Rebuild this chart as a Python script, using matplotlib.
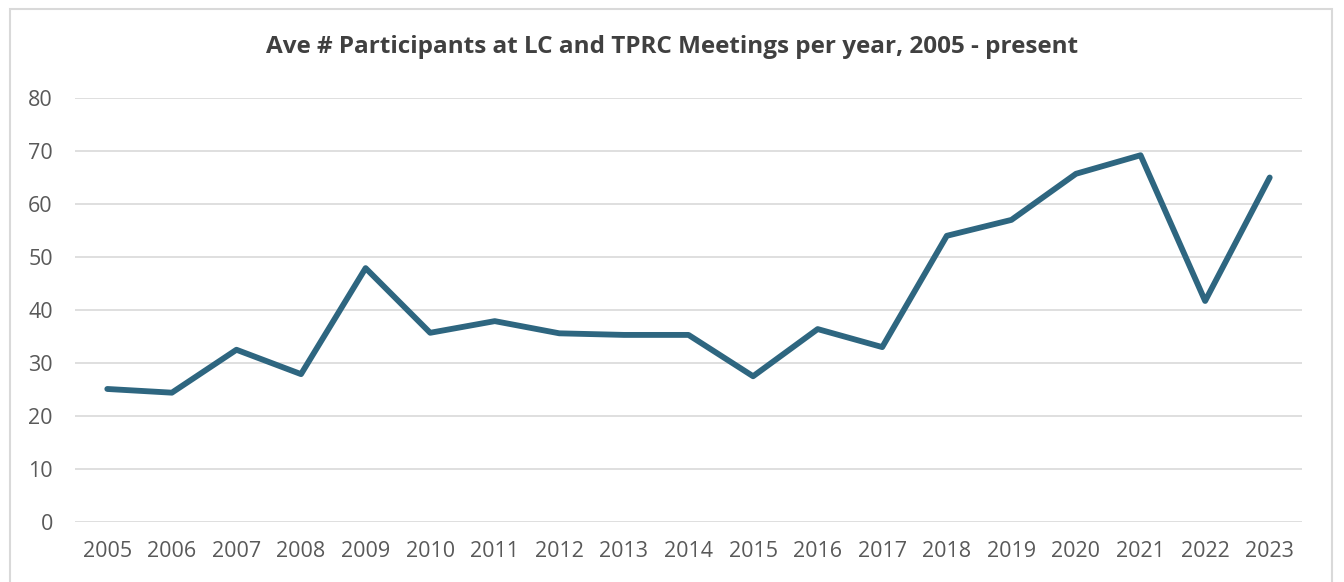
import matplotlib
matplotlib.use('Agg')
import matplotlib.pyplot as plt
from matplotlib.patches import Rectangle

plt.rcParams['font.family'] = ['Open Sans', 'DejaVu Sans']

years = [str(y) for y in range(2005, 2024)]
participants = [25.1, 24.4, 32.5, 27.9, 47.9, 35.7, 37.9, 35.6, 35.3, 35.3,
                27.5, 36.4, 33.0, 54.0, 57.0, 65.7, 69.2, 41.7, 65.0]
yticks = [0, 10, 20, 30, 40, 50, 60, 70, 80]

W, H = 1344, 582
fig = plt.figure(figsize=(W / 100, H / 100), dpi=100)
ax = fig.add_axes([75 / W, 1 - 522 / H, (1302 - 75) / W, (522 - 98) / H])

x = list(range(len(years)))
ax.plot(x, participants, color='#2E6680', lw=4.2, solid_capstyle='round',
        solid_joinstyle='round', zorder=3)

ax.set_xlim(-0.5, len(years) - 0.5)
ax.set_ylim(0, 80)
ax.set_yticks(yticks)
ax.set_xticks(x)
ax.set_xticklabels(years)
ax.grid(axis='y', color='#D9D9D9', lw=1.2)
for s in ax.spines.values():
    s.set_visible(False)
ax.tick_params(length=0, labelsize=15.5, colors='#595959')
ax.tick_params(axis='y', pad=16)
ax.tick_params(axis='x', pad=14)

fig.text(0.5, 1 - 47 / H, 'Ave # Participants at LC and TPRC Meetings per year, 2005 - present',
         ha='center', va='center', fontsize=17.5, fontweight='bold', color='#404040')

# chart frame
fig.patches.append(Rectangle((10 / W, -0.05), (1332 - 10) / W, 1.05 - 9 / H,
                             transform=fig.transFigure, fill=False,
                             edgecolor='#D9D9D9', lw=1.5))

fig.savefig('out.png', dpi=100)
